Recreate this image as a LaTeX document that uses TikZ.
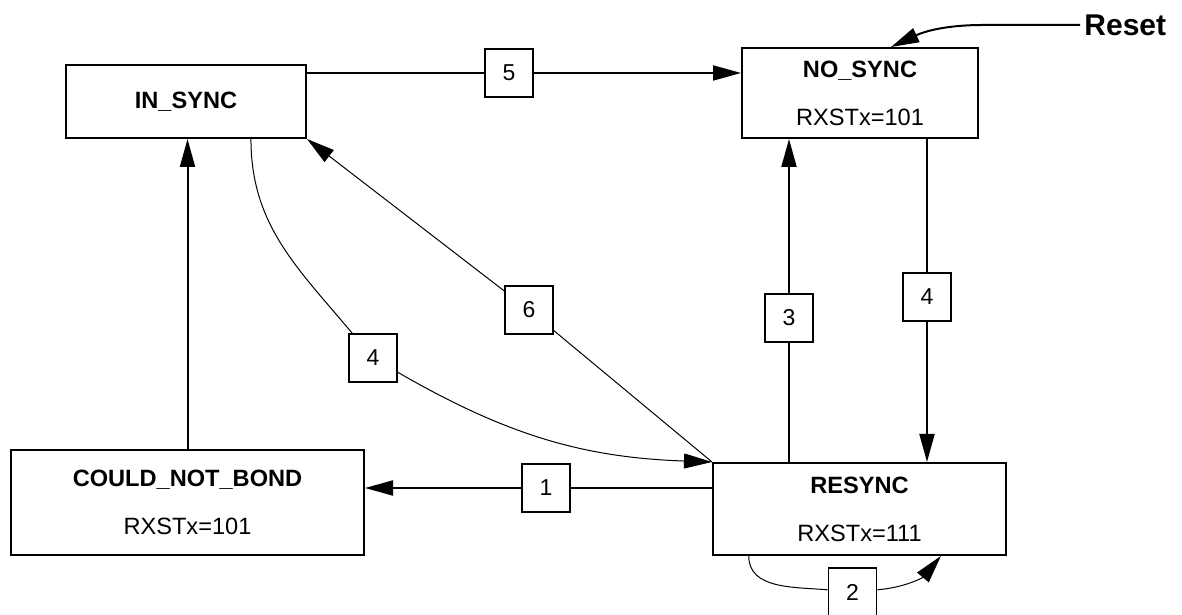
\documentclass[tikz,border=0pt]{standalone}
\usepackage{fontspec}
\setmainfont{Liberation Sans}
\usetikzlibrary{arrows.meta}

\begin{document}
\begin{tikzpicture}[x=.5pt, y=.5pt,
  state/.style={draw, line width=1pt, align=center, inner sep=0pt, font=\fontsize{11.8}{14}\selectfont},
  lbl/.style={draw, line width=.9pt, minimum width=24pt, minimum height=24pt, inner sep=0pt, font=\fontsize{11.5}{14}\selectfont},
  arr/.style={-{Triangle[length=14pt, width=7.5pt]}},
  heavy/.style={line width=1pt},
  light/.style={line width=.5pt}]
\useasboundingbox (0,0) rectangle (1182,615);
% states
\node[state, minimum width=120pt, minimum height=36.5pt] (insync) at (186,513.5) {\textbf{IN\_SYNC}};
\node[state, minimum width=118pt, minimum height=45pt] (nosync) at (860,522) {\textbf{NO\_SYNC}\\[10pt]RXSTx=101};
\node[state, minimum width=176.5pt, minimum height=52.5pt] (cnb) at (187.5,112.5) {\textbf{COULD\_NOT\_BOND}\\[10pt]RXSTx=101};
\node[state, minimum width=146.5pt, minimum height=46pt] (resync) at (859.5,106) {\textbf{RESYNC}\\[10pt]RXSTx=111};
\node[font=\bfseries\fontsize{15}{18}\selectfont, anchor=west, inner sep=2pt] (reset) at (1080,590) {Reset};
% transition numbers
\node[lbl] (l1) at (546,127) {1};
\node[lbl] (l2) at (852.5,23) {2};
\node[lbl] (l3) at (789,297) {3};
\node[lbl] (l4a) at (373,257) {4};
\node[lbl] (l4b) at (927,318) {4};
\node[lbl] (l5) at (509,542) {5};
\node[lbl] (l6) at (529,305) {6};
% transitions
\draw[heavy, arr] (reset.west) -- ++(-97,0) to[out=180, in=25] (nosync.56);
\draw[heavy, arr] (insync.east |- l5) -- (l5) -- (nosync.west |- l5);
\draw[heavy, arr] (cnb.north) -- (cnb.north |- insync.south);
\draw[heavy, arr] (resync.west |- l1) -- (l1) -- (cnb.east |- l1);
\draw[heavy, arr] (resync.north -| l3) -- (l3) -- (nosync.south -| l3);
\draw[heavy, arr] (nosync.south -| l4b) -- (l4b) -- (resync.north -| l4b);
\draw[light, arr] (resync.north west) -- (l6) -- (insync.south east);
\draw[light, arr] (insync.-30) to[out=-90, in=130] (l4a) to[out=-30, in=178] (resync.north west);
\draw[light, arr] (resync.-157) to[out=-90, in=175] (l2) to[out=5, in=-130] (resync.-30);
\end{tikzpicture}
\end{document}
